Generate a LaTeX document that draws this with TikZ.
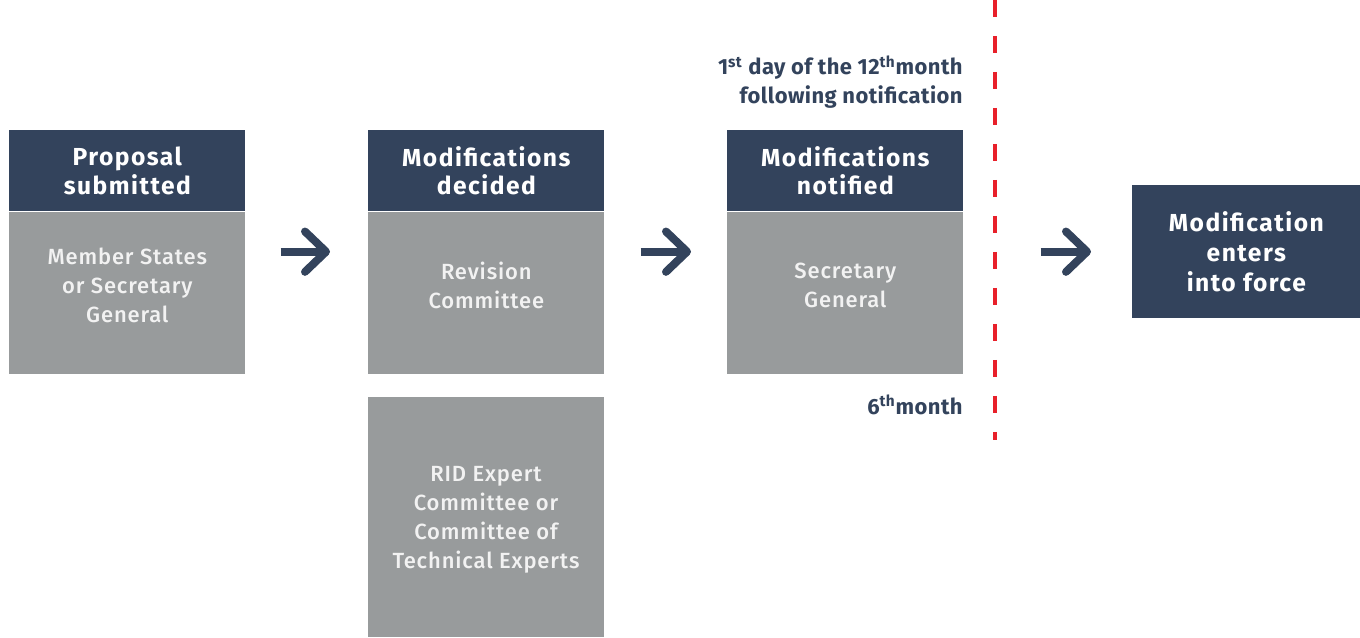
\documentclass[tikz,border=0pt]{standalone}
\usepackage{fontspec}
\setmainfont{Fira Sans}
\newfontfamily\midfont{Fira Sans Medium}
\usepackage{xcolor}
\usepackage{tikz}
\usetikzlibrary{arrows.meta, positioning}

\definecolor{navy}{HTML}{33435C}
\definecolor{slate}{HTML}{989B9C}
\definecolor{paper}{HTML}{F2F2F2}
\definecolor{cutred}{HTML}{E8202A}

\tikzset{
    stagehead/.style={fill=navy, text=white, inner sep=0pt, align=center,
        minimum width=4.72cm, minimum height=1.62cm,
        font=\bfseries\fontsize{14}{16}\selectfont\addfontfeature{LetterSpace=6}},
    stagebody/.style={fill=slate, inner sep=0pt,
        minimum width=4.72cm, minimum height=3.24cm},
    bodytext/.style={text=paper, inner sep=0pt, align=center, yshift=0.16cm,
        font=\midfont\fontsize{12.5}{16.5}\selectfont\addfontfeature{LetterSpace=4}},
    note/.style={text=navy, inner sep=0pt, align=right,
        font=\bfseries\fontsize{12.5}{16.5}\selectfont\addfontfeature{LetterSpace=2}},
    flow/.style={line width=4.5pt, navy,
        -{Straight Barb[length=12pt,width=23pt,round]}},
}

\begin{document}
\begin{tikzpicture}[x=0.02cm, y=-0.02cm]

    \useasboundingbox (0,0) rectangle (1360,637);

    % Stage 1
    \node[stagehead, anchor=north west] (hd1) at (9,130) {Proposal\\submitted};
    \node[stagebody, below=0pt of hd1,
        label={[bodytext]center:Member States\\or Secretary\\General}] (bd1) {};

    % Stage 2
    \node[stagehead, anchor=north west] (hd2) at (368,130) {Modifications\\decided};
    \node[stagebody, below=0pt of hd2,
        label={[bodytext]center:Revision\\Committee}] (bd2) {};
    \node[stagebody, minimum height=4.8cm, anchor=north,
        label={[bodytext, yshift=-0.2cm]center:RID Expert\\Committee or\\Committee of\\Technical Experts}]
        (bd2b) at (486,397) {};

    % Stage 3
    \node[stagehead, anchor=north west] (hd3) at (727,130) {Modifications\\notified};
    \node[stagebody, below=0pt of hd3,
        label={[bodytext]center:Secretary\\General}] (bd3) {};

    % Result
    \node[stagehead, minimum width=4.56cm, minimum height=2.66cm, anchor=north west,
        font=\bfseries\fontsize{14}{17}\selectfont\addfontfeature{LetterSpace=6}] (mod) at (1132,185)
        {Modification\\enters\\into force};

    % Time marks
    \node[note, anchor=east] (m12) at (963,82)
        {1\textsuperscript{st} day of the 12\textsuperscript{th}month\\following notification};
    \node[note, anchor=east] (m6) at (963,405) {6\textsuperscript{th}month};
    \draw[cutred, line width=0.08cm, dash pattern=on 0.34cm off 0.38cm] (995,0) -- (995,440);

    % Arrows
    \coordinate (a1) at ([yshift=-0.8cm]hd1.south east);
    \coordinate (a2) at ([yshift=-0.8cm]hd2.south east);
    \coordinate (a3) at ([yshift=-0.8cm]hd3.south east);
    \draw[flow, shorten <=0.7cm, shorten >=0.76cm] (a1) -- (a1 -| hd2.west);
    \draw[flow, shorten <=0.72cm, shorten >=0.72cm] (a2) -- (a2 -| hd3.west);
    \draw[flow, shorten <=1.54cm, shorten >=0.82cm] (a3) -- (a3 -| mod.west);

\end{tikzpicture}
\end{document}
